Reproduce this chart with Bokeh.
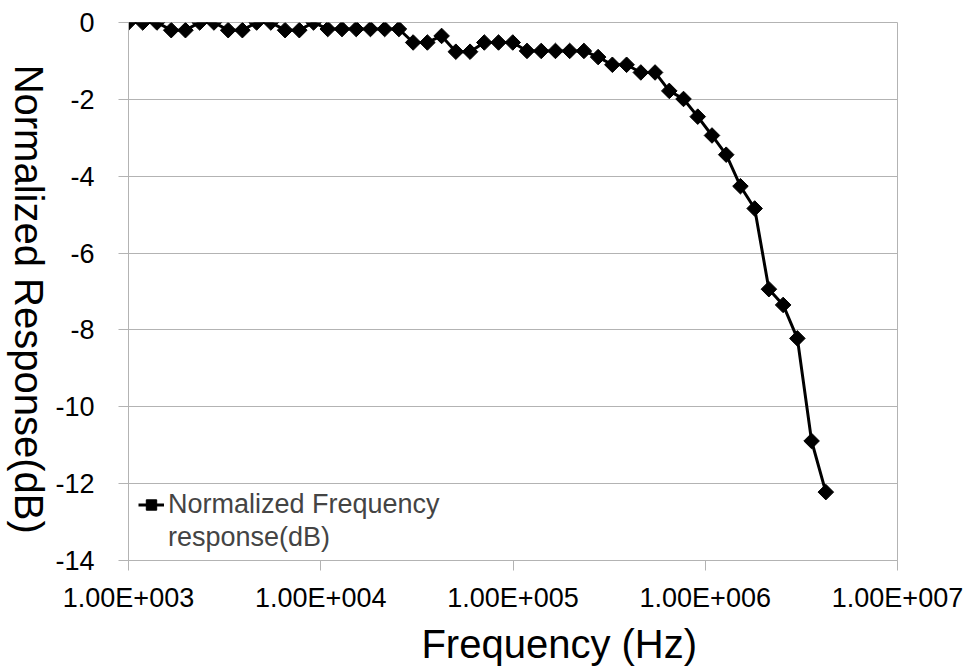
from math import pi
from bokeh.plotting import figure
from bokeh.layouts import row
from bokeh.models import (FixedTicker, CustomJSTickFormatter, Legend, LegendItem,
                          Range1d, LogAxis, Label)
from bokeh.embed import file_html
from bokeh.resources import INLINE

# ---- data ----
freq_hz = [1000, 1186, 1406, 1668, 1978, 2346, 2782, 3299, 3912, 4639,
           5501, 6523, 7735, 9172, 10875, 12897, 15294, 18136, 21505, 25501,
           30240, 35860, 42524, 50426, 59796, 70907, 84083, 99710, 118238, 140210,
           166264, 197160, 233797, 277243, 328760, 389850, 462290, 548200, 650060, 770860,
           914100, 1084000, 1285400, 1524300, 1807500, 2143400, 2541700, 3014000, 3574000, 4238000]
response_db = [0, 0, 0, -0.2, -0.2, 0, 0, -0.2, -0.2, 0,
               0, -0.2, -0.2, 0, -0.17, -0.17, -0.17, -0.17, -0.17, -0.17,
               -0.52, -0.52, -0.35, -0.76, -0.76, -0.52, -0.52, -0.52, -0.74, -0.74,
               -0.74, -0.74, -0.74, -0.9, -1.1, -1.1, -1.3, -1.3, -1.78, -1.99,
               -2.45, -2.94, -3.44, -4.26, -4.84, -6.94, -7.35, -8.22, -10.89, -12.22]
x_ticks = [1e3, 1e4, 1e5, 1e6, 1e7]
x_tick_labels = ["1.00E+003", "1.00E+004", "1.00E+005", "1.00E+006", "1.00E+007"]
y_ticks = [0, -2, -4, -6, -8, -10, -12, -14]
y_tick_labels = ["0", "-2", "-4", "-6", "-8", "-10", "-12", "-14"]
series_name_lines = ["Normalized Frequency", "response(dB)"]
x_title = "Frequency (Hz)"
y_title = "Normalized Response(dB)"

X_TITLE_AT = 174000          # centre of the x title along the frequency axis
Y_TITLE_AT = -7.2            # centre of the y title along the response axis

FONT = "Liberation Sans"
GRID = "#b3b3b3"
LOOKUP = """
const i = vals.findIndex(v => Math.abs(v - tick) <= 1e-6 * Math.max(1, Math.abs(v)));
return i >= 0 ? labs[i] : "";
"""

TITLE_W = 52   # width of the strip that carries the rotated y title

# ---- strip with the y-axis title (reads top to bottom) ----
t = figure(width=TITLE_W, height=668, x_range=Range1d(0, TITLE_W), y_range=Range1d(-14, 0),
           output_backend="svg", toolbar_location=None,
           x_axis_location=None, y_axis_location=None, min_border=0)
t.grid.visible = False
t.outline_line_color = None
t.border_fill_color = "white"
t.background_fill_color = "white"
t.add_layout(Label(x=28, y=Y_TITLE_AT, text=y_title, angle=-pi / 2,
                   text_align="center", text_baseline="middle",
                   text_font=FONT, text_font_size="40px", text_color="black"))

# ---- main chart ----
p = figure(width=968 - TITLE_W, height=668, x_axis_type="log",
           x_range=Range1d(1e3, 1e7), y_range=Range1d(-14, 0),
           output_backend="svg", toolbar_location=None,
           min_border_left=127 - TITLE_W, min_border_right=71,
           min_border_top=22, min_border_bottom=106)

p.outline_line_color = GRID
p.background_fill_color = "white"
p.border_fill_color = "white"

p.xgrid.visible = False
p.ygrid.ticker = FixedTicker(ticks=y_ticks)
p.ygrid.grid_line_color = GRID
p.ygrid.grid_line_width = 1

for ax in (p.xaxis[0], p.yaxis[0]):
    ax.axis_line_color = GRID
    ax.major_tick_line_color = GRID
    ax.minor_tick_line_color = None
    ax.major_tick_in = 0
    ax.major_tick_out = 10
    ax.major_label_text_font = FONT
    ax.major_label_text_font_size = "27px"
    ax.major_label_text_color = "black"

p.xaxis.ticker = FixedTicker(ticks=x_ticks)
p.xaxis.formatter = CustomJSTickFormatter(args=dict(vals=x_ticks, labs=x_tick_labels), code=LOOKUP)
p.xaxis.major_label_standoff = 12
p.yaxis.ticker = FixedTicker(ticks=y_ticks)
p.yaxis.formatter = CustomJSTickFormatter(args=dict(vals=y_ticks, labs=y_tick_labels), code=LOOKUP)
p.yaxis.major_label_standoff = 24

# x title drawn as a single-label axis below the tick labels
p.add_layout(LogAxis(ticker=FixedTicker(ticks=[X_TITLE_AT]),
                     formatter=CustomJSTickFormatter(args=dict(t=x_title), code="return t;"),
                     axis_line_color=None, major_tick_line_color=None,
                     minor_tick_line_color=None, major_tick_in=0, major_tick_out=0,
                     major_label_standoff=6,
                     major_label_text_font=FONT, major_label_text_font_size="40px",
                     major_label_text_color="black"), "below")

line_r = p.line(freq_hz, response_db, line_color="black", line_width=3)
mark_r = p.scatter(freq_hz, response_db, marker="square", size=11, angle=pi / 4,
                   fill_color="black", line_color="black")
# invisible stand-in so the second legend line carries no glyph
blank_r = p.line(x=[], y=[], line_alpha=0)

legend = Legend(items=[LegendItem(label=series_name_lines[0], renderers=[line_r, mark_r]),
                       LegendItem(label=series_name_lines[1], renderers=[blank_r])],
                location=(10, 6), padding=0, margin=0, spacing=0,
                glyph_width=26, glyph_height=33, label_standoff=4,
                label_height=33,
                border_line_color=None, background_fill_alpha=0,
                label_text_font=FONT, label_text_font_size="27px")
p.add_layout(legend, "center")

layout = row(t, p, spacing=0)
open("out.html", "w").write(file_html(layout, INLINE))
